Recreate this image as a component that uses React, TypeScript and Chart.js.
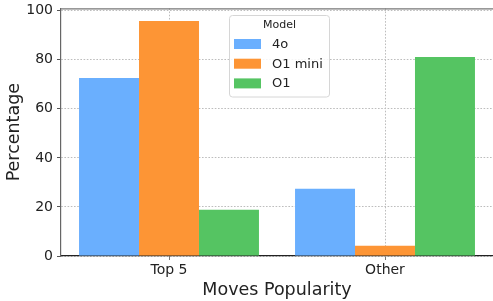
import React, { useEffect, useRef } from "react";
import { Chart, registerables } from "chart.js";

Chart.register(...registerables);

const categories = ["Top 5", "Other"];
const seriesNames = ["4o", "O1 mini", "O1"];
const values4o = [72.6, 27.4];
const valuesO1mini = [95.8, 4.2];
const valuesO1 = [18.9, 81.1];
const yTicks = [0, 20, 40, 60, 80, 100];
const colors = ["#6aaffe", "#fd9535", "#55c462"];

const FONT = "'DejaVu Sans', sans-serif";

const legendPlugin = {
  id: "mplLegend",
  afterDraw(chart: any) {
    const ctx = chart.ctx;
    const area = chart.chartArea;
    ctx.save();
    // top spine
    ctx.strokeStyle = "#777";
    ctx.lineWidth = 1.2;
    ctx.beginPath();
    ctx.moveTo(area.left, area.top + 0.5);
    ctx.lineTo(area.right, area.top + 0.5);
    ctx.stroke();

    const x0 = 229.5, y0 = 15.5, w = 100, h = 81.5;
    ctx.fillStyle = "rgba(255,255,255,0.85)";
    ctx.strokeStyle = "#d6d6d6";
    ctx.lineWidth = 1;
    ctx.beginPath();
    (ctx as any).roundRect(x0, y0, w, h, 3);
    ctx.fill();
    ctx.stroke();
    ctx.fillStyle = "#222";
    ctx.font = `11px ${FONT}`;
    ctx.textAlign = "center";
    ctx.textBaseline = "middle";
    ctx.fillText("Model", x0 + w / 2, 25.5);
    ctx.font = `13px ${FONT}`;
    ctx.textAlign = "left";
    chart.data.datasets.forEach((ds: any, i: number) => {
      const cy = 44 + i * 19.7;
      ctx.fillStyle = ds.backgroundColor;
      ctx.fillRect(234, cy - 5, 27, 10);
      ctx.fillStyle = "#222";
      ctx.fillText(ds.label, 272, cy + 0.5);
    });
    ctx.restore();
  },
};

export default function App() {
  const ref = useRef<HTMLCanvasElement>(null);
  useEffect(() => {
    document.body.style.margin = "0";
    const chart = new Chart(ref.current!, {
      type: "bar",
      data: {
        labels: categories,
        datasets: [
          { label: seriesNames[0], data: values4o, backgroundColor: colors[0] },
          { label: seriesNames[1], data: valuesO1mini, backgroundColor: colors[1] },
          { label: seriesNames[2], data: valuesO1, backgroundColor: colors[2] },
        ],
      },
      options: {
        responsive: false,
        animation: false,
        layout: { padding: { top: 8.3, right: -4, left: 0, bottom: 0 } },
        datasets: { bar: { categoryPercentage: 0.833, barPercentage: 1.0 } },
        plugins: { legend: { display: false }, tooltip: { enabled: false } },
        scales: {
          x: {
            grid: {
              offset: false,
              color: "#bdbdbd",
              tickColor: "#777",
              tickLength: 4,
              tickBorderDash: [],
            } as any,
            border: { color: "#222", width: 1.2, dash: [1.6, 1.6] },
            ticks: { color: "#222", font: { family: FONT, size: 14 }, padding: 2 },
            title: {
              display: true,
              text: "Moves Popularity",
              color: "#222",
              font: { family: FONT, size: 17.5, lineHeight: 1.2 },
              padding: { top: 0, bottom: 0 },
            },
            afterFit: (s: any) => {
              s.height = 45;
              s.paddingLeft = 0;
              s.paddingRight = 0;
            },
          },
          y: {
            min: 0,
            max: 101,
            afterBuildTicks: (s: any) => {
              s.ticks = yTicks.map((v) => ({ value: v }));
            },
            grid: {
              color: "#bdbdbd",
              tickColor: "#555",
              tickLength: 4,
              tickBorderDash: [],
            } as any,
            border: { color: "#666", width: 1.2, dash: [1.6, 1.6] },
            ticks: { color: "#222", font: { family: FONT, size: 14 }, padding: 4 },
            title: {
              display: true,
              text: "Percentage",
              color: "#222",
              font: { family: FONT, size: 17.5, lineHeight: 1.2 },
              padding: { top: 3.5, bottom: 0 },
            },
            afterFit: (s: any) => {
              s.width = 61;
              s.paddingTop = 0;
              s.paddingBottom = 0;
            },
          },
        },
      },
      plugins: [legendPlugin],
    });
    return () => chart.destroy();
  }, []);
  return (
    <div style={{ position: "absolute", left: 0, top: 0, width: 493, height: 301, background: "#fff" }}>
      <canvas ref={ref} width={493} height={301} />
    </div>
  );
}
